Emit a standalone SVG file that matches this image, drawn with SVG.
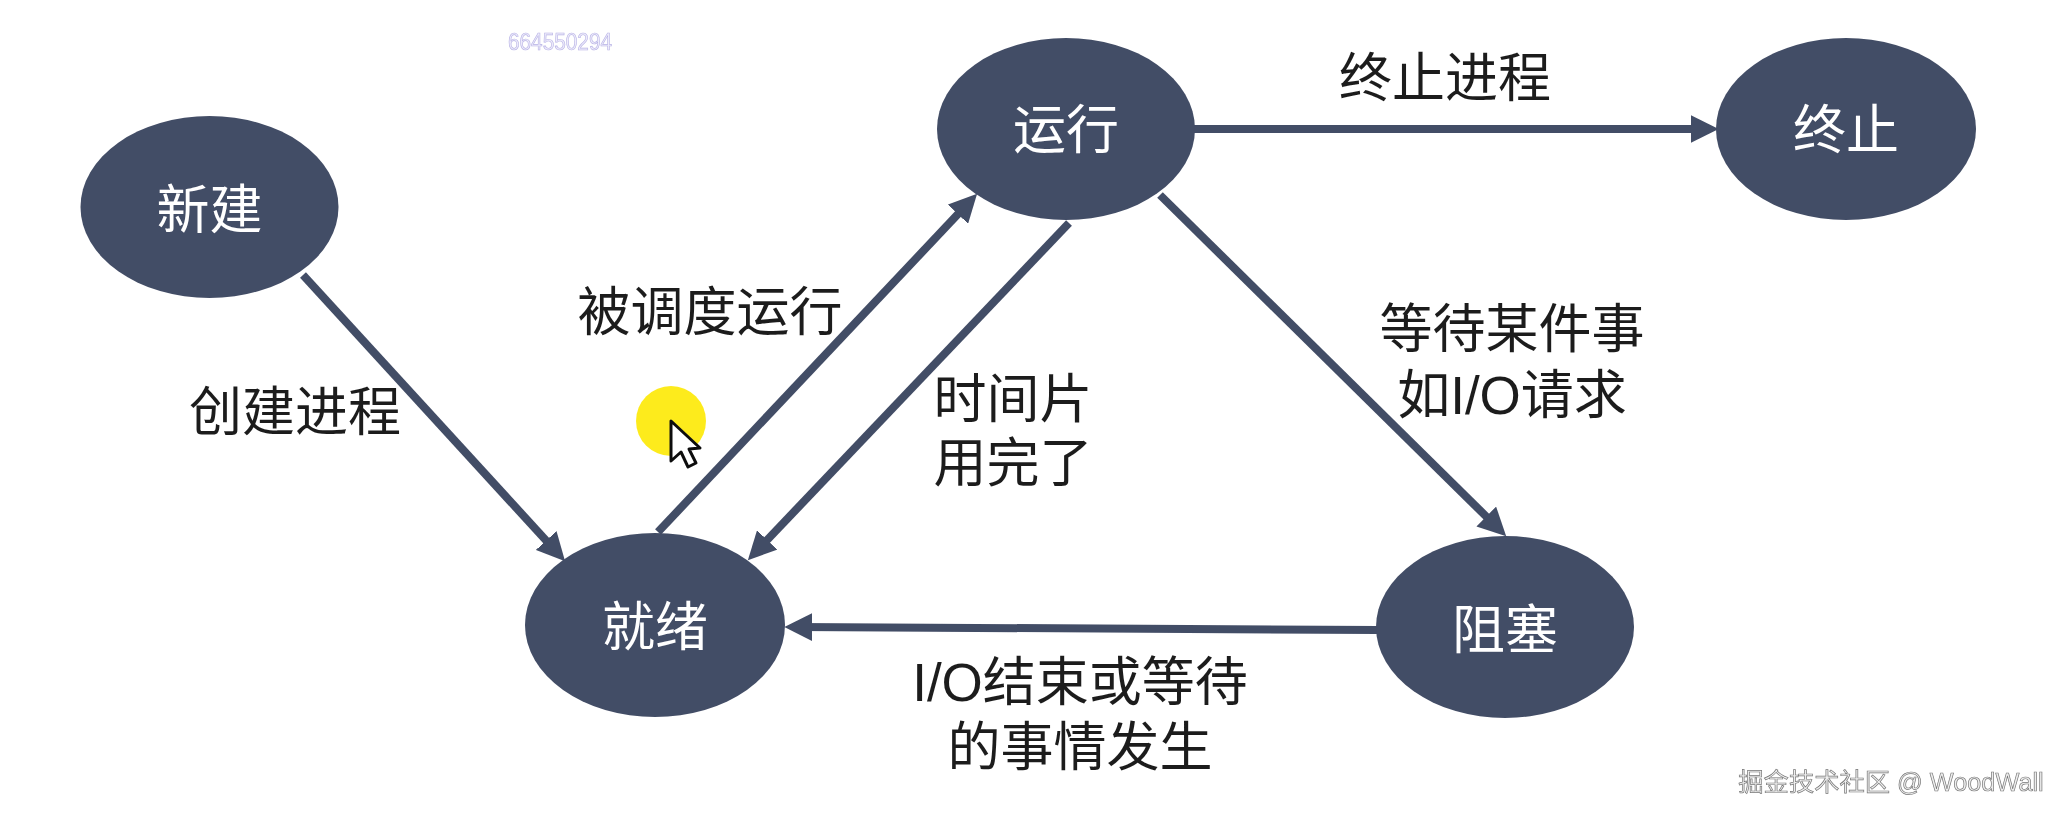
<svg xmlns="http://www.w3.org/2000/svg" width="2065" height="819" viewBox="0 0 2065 819">
<defs>
<marker id="arrow" markerUnits="userSpaceOnUse" markerWidth="28" markerHeight="28" viewBox="0 0 24 24" refX="14" refY="12" orient="auto">
<path d="M0 0L24 12L0 24Z" fill="#434d66"/>
</marker>
<filter id="soft" x="-5%" y="-5%" width="110%" height="110%"><feGaussianBlur stdDeviation="0.6"/></filter>
</defs>
<style>
text{font-family:"Liberation Sans","Noto Sans CJK SC",sans-serif;text-anchor:middle;dominant-baseline:central}
.node{fill:#434d66}
.nt{font-size:53px;fill:#fff}
.lb{font-size:53px;fill:#1e1e1e}
.c{fill:none;stroke:#434d66;stroke-width:8;marker-end:url(#arrow)}
</style>
<rect width="2065" height="819" fill="#fff"/>
<g filter="url(#soft)">
<g id="connectors">
<line class="c" x1="303" y1="275" x2="557.2" y2="552.6"/>
<line class="c" x1="658" y1="532" x2="969.1" y2="202.3"/>
<line class="c" x1="1069" y1="223" x2="755.9" y2="551.8"/>
<line class="c" x1="1160" y1="195" x2="1497.9" y2="528"/>
<line class="c" x1="1378" y1="630" x2="796" y2="627"/>
<line class="c" x1="1194" y1="129" x2="1707" y2="129"/>
</g>
<g id="node-new"><ellipse class="node" cx="209.500" cy="207" rx="129" ry="91"/><text class="nt" x="209.500" y="210">新建</text></g>
<g id="node-run"><ellipse class="node" cx="1066" cy="129" rx="129" ry="91"/><text class="nt" x="1066" y="130">运行</text></g>
<g id="node-end"><ellipse class="node" cx="1846" cy="129" rx="130" ry="91"/><text class="nt" x="1846" y="130">终止</text></g>
<g id="node-ready"><ellipse class="node" cx="655" cy="625" rx="130" ry="92"/><text class="nt" x="655" y="627">就绪</text></g>
<g id="node-block"><ellipse class="node" cx="1505" cy="627" rx="129" ry="91"/><text class="nt" x="1505" y="630">阻塞</text></g>
<g id="labels">
<text class="lb" x="1445" y="78">终止进程</text>
<text class="lb" x="295" y="412">创建进程</text>
<text class="lb" x="710" y="312">被调度运行</text>
<text class="lb" x="1013" y="399">时间片</text>
<text class="lb" x="1013" y="463">用完了</text>
<text class="lb" x="1512" y="329">等待某件事</text>
<text class="lb" x="1512" y="395">如I/O请求</text>
<text class="lb" x="1080" y="682">I/O结束或等待</text>
<text class="lb" x="1080" y="747">的事情发生</text>
</g>
<text x="560" y="41" font-size="24" fill="#eeecfb" stroke="#b9b4e6" stroke-width="0.7" textLength="104" lengthAdjust="spacingAndGlyphs">664550294</text>
<g id="cursor">
<circle cx="671" cy="421" r="35" fill="#fdeb1e"/>
<path d="M671 421V461L681 452L688 467L696 463L689 449L700 448Z" fill="#fff" stroke="#111" stroke-width="3" stroke-linejoin="round"/>
</g>
<text x="1891" y="782" font-size="25.300" fill="#eee" stroke="#777" stroke-width="0.7">掘金技术社区 @ WoodWall</text>
</g>
</svg>
